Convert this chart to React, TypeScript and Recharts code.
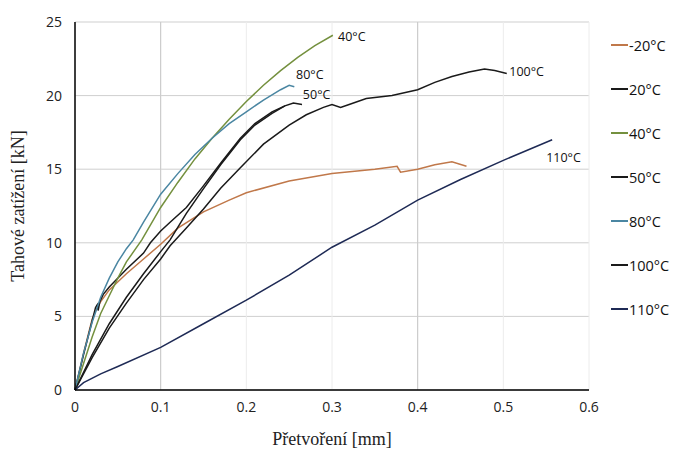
import { LineChart, Line, XAxis, YAxis, CartesianGrid, ReferenceLine, ReferenceDot } from 'recharts';

type Pt = { x: number; y: number };

// strain [mm] / load [kN]
const minus20: Pt[] = [
  { x: 0, y: 0 }, { x: 0.01, y: 2.5 }, { x: 0.02, y: 4.8 }, { x: 0.025, y: 5.5 }, { x: 0.03, y: 6.0 },
  { x: 0.04, y: 6.8 }, { x: 0.06, y: 7.9 }, { x: 0.08, y: 8.9 }, { x: 0.1, y: 9.9 }, { x: 0.12, y: 11.0 },
  { x: 0.15, y: 12.1 }, { x: 0.18, y: 12.9 }, { x: 0.2, y: 13.4 }, { x: 0.25, y: 14.2 }, { x: 0.3, y: 14.7 },
  { x: 0.35, y: 15.0 }, { x: 0.376, y: 15.2 }, { x: 0.38, y: 14.8 }, { x: 0.4, y: 15.0 }, { x: 0.42, y: 15.3 },
  { x: 0.44, y: 15.5 }, { x: 0.457, y: 15.2 },
];
const plus20: Pt[] = [
  { x: 0, y: 0 }, { x: 0.01, y: 2.4 }, { x: 0.02, y: 4.7 }, { x: 0.024, y: 5.6 }, { x: 0.026, y: 5.8 },
  { x: 0.027, y: 5.4 }, { x: 0.029, y: 6.0 }, { x: 0.033, y: 6.5 }, { x: 0.04, y: 7.0 }, { x: 0.06, y: 8.2 },
  { x: 0.08, y: 9.3 }, { x: 0.088, y: 10.0 }, { x: 0.1, y: 10.8 }, { x: 0.111, y: 11.4 }, { x: 0.13, y: 12.4 },
  { x: 0.149, y: 13.8 }, { x: 0.17, y: 15.4 }, { x: 0.193, y: 17.1 }, { x: 0.21, y: 18.1 }, { x: 0.23, y: 18.9 },
  { x: 0.245, y: 19.3 },
];
const plus40: Pt[] = [
  { x: 0, y: 0 }, { x: 0.01, y: 1.8 }, { x: 0.02, y: 3.6 }, { x: 0.03, y: 5.2 }, { x: 0.04, y: 6.4 },
  { x: 0.05, y: 7.6 }, { x: 0.06, y: 8.7 }, { x: 0.078, y: 10.2 }, { x: 0.1, y: 12.4 }, { x: 0.12, y: 14.1 },
  { x: 0.14, y: 15.7 }, { x: 0.16, y: 17.1 }, { x: 0.18, y: 18.4 }, { x: 0.2, y: 19.6 }, { x: 0.22, y: 20.7 },
  { x: 0.24, y: 21.7 }, { x: 0.26, y: 22.6 }, { x: 0.28, y: 23.4 }, { x: 0.301, y: 24.1 },
];
const plus50: Pt[] = [
  { x: 0, y: 0 }, { x: 0.02, y: 2.4 }, { x: 0.04, y: 4.5 }, { x: 0.06, y: 6.3 }, { x: 0.08, y: 7.9 },
  { x: 0.1, y: 9.4 }, { x: 0.111, y: 10.2 }, { x: 0.13, y: 12.0 }, { x: 0.149, y: 13.6 }, { x: 0.17, y: 15.3 },
  { x: 0.193, y: 17.0 }, { x: 0.21, y: 18.0 }, { x: 0.23, y: 18.8 }, { x: 0.245, y: 19.3 }, { x: 0.255, y: 19.5 },
  { x: 0.265, y: 19.4 },
];
const plus80: Pt[] = [
  { x: 0, y: 0 }, { x: 0.01, y: 2.5 }, { x: 0.02, y: 4.6 }, { x: 0.03, y: 6.3 }, { x: 0.04, y: 7.6 },
  { x: 0.05, y: 8.7 }, { x: 0.06, y: 9.6 }, { x: 0.068, y: 10.2 }, { x: 0.08, y: 11.4 }, { x: 0.1, y: 13.3 },
  { x: 0.12, y: 14.7 }, { x: 0.14, y: 16.0 }, { x: 0.16, y: 17.1 }, { x: 0.18, y: 18.1 }, { x: 0.2, y: 18.9 },
  { x: 0.22, y: 19.7 }, { x: 0.24, y: 20.4 }, { x: 0.25, y: 20.7 }, { x: 0.256, y: 20.6 },
];
const plus100: Pt[] = [
  { x: 0, y: 0 }, { x: 0.02, y: 2.2 }, { x: 0.04, y: 4.2 }, { x: 0.06, y: 5.9 }, { x: 0.08, y: 7.5 },
  { x: 0.1, y: 8.9 }, { x: 0.111, y: 9.8 }, { x: 0.13, y: 11.0 }, { x: 0.15, y: 12.3 }, { x: 0.17, y: 13.7 },
  { x: 0.193, y: 15.1 }, { x: 0.22, y: 16.7 }, { x: 0.25, y: 18.0 }, { x: 0.27, y: 18.7 }, { x: 0.29, y: 19.2 },
  { x: 0.3, y: 19.4 }, { x: 0.31, y: 19.2 }, { x: 0.32, y: 19.4 }, { x: 0.34, y: 19.8 }, { x: 0.37, y: 20.0 },
  { x: 0.4, y: 20.4 }, { x: 0.42, y: 20.9 }, { x: 0.44, y: 21.3 }, { x: 0.46, y: 21.6 }, { x: 0.478, y: 21.8 },
  { x: 0.49, y: 21.7 }, { x: 0.504, y: 21.5 },
];
const plus110: Pt[] = [
  { x: 0, y: 0 }, { x: 0.01, y: 0.5 }, { x: 0.03, y: 1.1 }, { x: 0.05, y: 1.6 }, { x: 0.1, y: 2.9 },
  { x: 0.15, y: 4.5 }, { x: 0.2, y: 6.1 }, { x: 0.25, y: 7.8 }, { x: 0.3, y: 9.7 }, { x: 0.35, y: 11.2 },
  { x: 0.4, y: 12.9 }, { x: 0.45, y: 14.3 }, { x: 0.5, y: 15.6 }, { x: 0.557, y: 17.0 },
];

const seriesNames = ['-20°C', '20°C', '40°C', '50°C', '80°C', '100°C', '110°C'];
const seriesColors = ['#c0784a', '#1a1a1a', '#74903e', '#1a1a1a', '#4a86a2', '#1a1a1a', '#1e2a55'];
const seriesData = [minus20, plus20, plus40, plus50, plus80, plus100, plus110];

const xTicks = [0, 0.1, 0.2, 0.3, 0.4, 0.5, 0.6];
const yTicks = [0, 5, 10, 15, 20, 25];

// curve-end annotations: [text, x, y]
const endLabels: [string, number, number][] = [
  ['40°C', 0.307, 24.0],
  ['80°C', 0.258, 21.4],
  ['50°C', 0.266, 20.1],
  ['100°C', 0.507, 21.6],
  ['110°C', 0.55, 15.8],
];

const sans = '"Open Sans", "Liberation Sans", sans-serif';
const serif = '"Liberation Serif", "Times New Roman", serif';

function LegendBox() {
  return (
    <div style={{ position: 'absolute', top: 15, left: 603, fontFamily: sans, fontSize: 14.5, color: '#111' }}>
      {seriesNames.map((n, i) => (
        <div key={n} style={{ display: 'flex', alignItems: 'center', height: 44 }}>
          <span style={{ display: 'inline-block', width: 17, height: 0, borderTop: `2px solid ${seriesColors[i]}`, marginRight: 1 }} />
          <span>{n}</span>
        </div>
      ))}
    </div>
  );
}

export default function App() {
  return (
    <div style={{ position: 'relative', width: 671, height: 444 }}>
      <LineChart width={671} height={444} margin={{ top: 14, right: 90, bottom: 0, left: 0 }}>
        <CartesianGrid horizontal stroke="#cfcfcf" vertical={false} />
        <CartesianGrid horizontal={false} vertical stroke="#ececec" />
        <ReferenceLine x={0.1} stroke="#c6c6c6" />
        <ReferenceLine x={0.4} stroke="#c6c6c6" />
        <XAxis
          type="number"
          dataKey="x"
          domain={[0, 0.6]}
          ticks={xTicks}
          tickLine={false}
          tickMargin={6}
          height={62}
          axisLine={{ stroke: '#000', strokeWidth: 1.5 }}
          tick={{ fontFamily: sans, fontSize: 14, fill: '#222' }}
          label={{ value: 'Přetvoření [mm]', position: 'insideBottom', offset: 7, style: { fontFamily: serif, fontSize: 18, fill: '#222' } }}
          allowDuplicatedCategory={false}
        />
        <XAxis xAxisId="top" orientation="top" type="number" domain={[0, 0.6]} height={0} tick={false} tickLine={false} axisLine={{ stroke: '#000', strokeWidth: 1.5 }} />
        <YAxis
          type="number"
          dataKey="y"
          domain={[0, 25]}
          ticks={yTicks}
          tickLine={false}
          tickMargin={7}
          width={67}
          axisLine={{ stroke: '#000', strokeWidth: 1.5 }}
          tick={{ fontFamily: sans, fontSize: 14, fill: '#222' }}
          label={{ value: 'Tahové zatížení [kN]', angle: -90, position: 'insideLeft', offset: 10, style: { textAnchor: 'middle', fontFamily: serif, fontSize: 18, fill: '#222' } }}
        />
        <YAxis yAxisId="right" orientation="right" type="number" domain={[0, 25]} width={0} tick={false} tickLine={false} axisLine={{ stroke: '#000', strokeWidth: 1.5 }} />
        {seriesData.map((d, i) => (
          <Line
            key={seriesNames[i]}
            data={d}
            dataKey="y"
            name={seriesNames[i]}
            type="linear"
            stroke={seriesColors[i]}
            strokeWidth={1.5}
            dot={false}
            isAnimationActive={false}
          />
        ))}
        {endLabels.map(([t, x, y]) => (
          <ReferenceDot
            key={t}
            x={x}
            y={y}
            r={0}
            fill="none"
            stroke="none"
            label={{ value: t, position: 'right', offset: 0, style: { fontFamily: sans, fontSize: 12.5, fill: '#111' } }}
          />
        ))}
      </LineChart>
      <LegendBox />
    </div>
  );
}
